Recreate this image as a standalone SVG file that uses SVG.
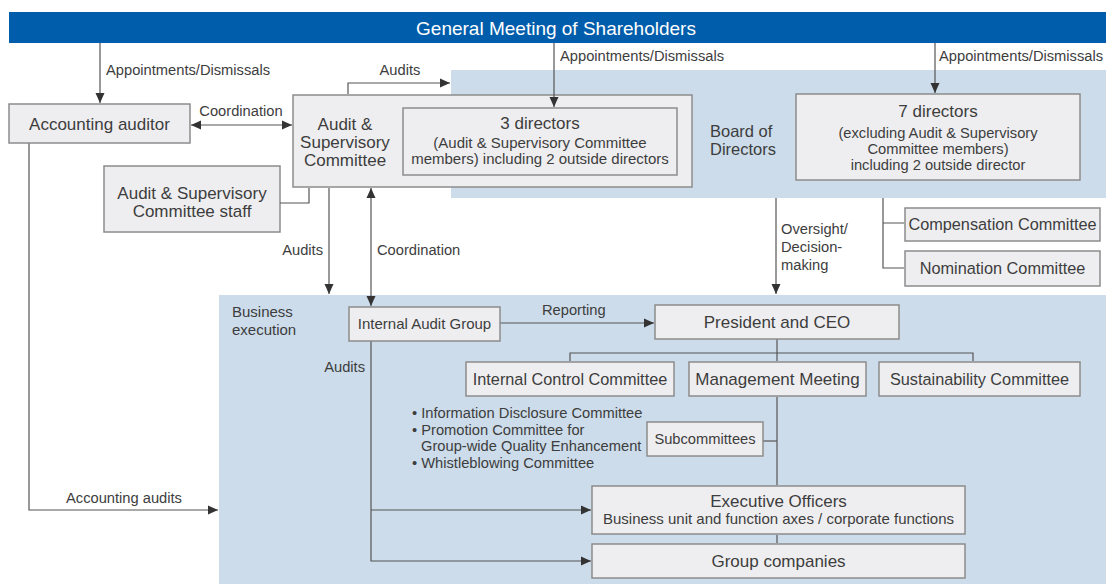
<svg xmlns="http://www.w3.org/2000/svg" width="1106" height="584" viewBox="0 0 1106 584">
<defs>
<marker id="ah" markerUnits="userSpaceOnUse" markerWidth="10" markerHeight="10" viewBox="0 0 10 10" refX="10" refY="5" orient="auto-start-reverse">
<path d="M0,0.5 L10,5 L0,9.5 Z" fill="#333"/>
</marker>
<style>
.bx{fill:#eeeef0;stroke:#8c8c8c;stroke-width:1.5}
.ln{fill:none;stroke:#555;stroke-width:1.2}
.ar{marker-end:url(#ah)}
.da{marker-start:url(#ah);marker-end:url(#ah)}
text{font-family:"Liberation Sans",Arial,sans-serif;fill:#3d3d3d}
.t17{font-size:17px;text-anchor:middle}
.t16{font-size:16.3px;text-anchor:middle}
.t15{font-size:15px;text-anchor:middle}
.t14{font-size:14.7px;text-anchor:middle}
.lb{font-size:14.7px}
</style>
</defs>
<rect width="1106" height="584" fill="#ffffff"/>
<rect id="board-panel" x="451" y="70" width="655" height="128" fill="#ccdcea"/>
<rect id="exec-panel" x="219" y="295" width="887" height="289" fill="#ccdcea"/>
<g id="gms">
<rect x="9" y="12" width="1097" height="31" fill="#005dab"/>
<text x="556" y="34.5" style="font-size:19px;text-anchor:middle;fill:#ffffff">General Meeting of Shareholders</text>
</g>
<g id="board-label">
<text x="710" y="137" style="font-size:16.5px">Board of</text>
<text x="710" y="155" style="font-size:16.5px">Directors</text>
</g>
<g id="exec-label">
<text x="232" y="317" style="font-size:15px">Business</text>
<text x="232" y="335" style="font-size:15px">execution</text>
</g>
<g id="accounting-auditor">
<rect class="bx" x="9" y="104" width="181" height="39"/>
<text class="t17" x="99.5" y="130">Accounting auditor</text>
</g>
<g id="asc">
<rect class="bx" x="293" y="95" width="399" height="92"/>
<text class="t17" x="345" y="130">Audit &amp;</text>
<text class="t17" x="345" y="148">Supervisory</text>
<text class="t17" x="345" y="166">Committee</text>
</g>
<g id="three-directors">
<rect class="bx" x="403" y="108" width="274" height="67"/>
<text class="t17" x="540" y="129">3 directors</text>
<text class="t15" x="540" y="148">(Audit &amp; Supervisory Committee</text>
<text class="t15" x="540" y="164">members) including 2 outside directors</text>
</g>
<g id="asc-staff">
<rect class="bx" x="104" y="166" width="176" height="66"/>
<text class="t17" x="192" y="199">Audit &amp; Supervisory</text>
<text class="t17" x="192" y="217">Committee staff</text>
</g>
<g id="seven-directors">
<rect class="bx" x="796" y="94" width="284" height="86"/>
<text class="t17" x="938" y="117">7 directors</text>
<text class="t14" x="938" y="138">(excluding Audit &amp; Supervisory</text>
<text class="t14" x="938" y="154">Committee members)</text>
<text class="t14" x="938" y="170">including 2 outside director</text>
</g>
<g id="compensation">
<rect class="bx" x="905" y="208" width="195" height="33"/>
<text class="t16" x="1002.5" y="230">Compensation Committee</text>
</g>
<g id="nomination">
<rect class="bx" x="905" y="251" width="195" height="35"/>
<text class="t16" x="1002.5" y="274">Nomination Committee</text>
</g>
<g id="internal-audit">
<rect class="bx" x="349" y="307" width="151" height="34"/>
<text class="t15" x="424.5" y="329">Internal Audit Group</text>
</g>
<g id="ceo">
<rect class="bx" x="655" y="305" width="244" height="34"/>
<text class="t17" x="777" y="328">President and CEO</text>
</g>
<g id="icc">
<rect class="bx" x="466" y="362" width="208" height="34"/>
<text class="t16" x="570" y="385">Internal Control Committee</text>
</g>
<g id="mm">
<rect class="bx" x="689" y="362" width="177" height="34"/>
<text class="t17" x="777.5" y="385">Management Meeting</text>
</g>
<g id="sustainability">
<rect class="bx" x="879" y="362" width="201" height="34"/>
<text class="t16" x="979.5" y="385">Sustainability Committee</text>
</g>
<g id="committee-list">
<text class="lb" x="412" y="418">• Information Disclosure Committee</text>
<text class="lb" x="412" y="435">• Promotion Committee for</text>
<text class="lb" x="421" y="451">Group-wide Quality Enhancement</text>
<text class="lb" x="412" y="468">• Whistleblowing Committee</text>
</g>
<g id="subcommittees">
<rect class="bx" x="647" y="422" width="116" height="34"/>
<text class="t14" x="705" y="444">Subcommittees</text>
</g>
<g id="executive-officers">
<rect class="bx" x="592" y="486" width="373" height="48"/>
<text class="t17" x="778.5" y="507">Executive Officers</text>
<text class="t15" x="778.5" y="524">Business unit and function axes / corporate functions</text>
</g>
<g id="group-companies">
<rect class="bx" x="592" y="544" width="373" height="34"/>
<text class="t17" x="778.5" y="567">Group companies</text>
</g>
<g id="connectors">
<path class="ln ar" d="M100,43 V103"/>
<path class="ln ar" d="M554,43 V107"/>
<path class="ln ar" d="M935,43 V93"/>
<path class="ln da" d="M191,125 H292"/>
<path class="ln ar" d="M348,94 V83 H450"/>
<path class="ln" d="M280,203 H309 V188"/>
<path class="ln ar" d="M329,188 V294"/>
<path class="ln da" d="M371,188 V306"/>
<path class="ln ar" d="M29,143.5 V510 H218"/>
<path class="ln ar" d="M500.5,323 H654"/>
<path class="ln ar" d="M371,341.5 V561 H591"/>
<path class="ln ar" d="M371,510 H591"/>
<path class="ln ar" d="M776,198 V294"/>
<path class="ln" d="M883,198 V268 H904 M883,223 H904"/>
<path class="ln" d="M777,339.5 V361 M777,397 V485 M777,535 V543"/>
<path class="ln" d="M570,361 V353 H973 V361"/>
<path class="ln" d="M763.5,441 H777"/>
<text class="lb" x="106" y="75">Appointments/Dismissals</text>
<text class="lb" x="560" y="61">Appointments/Dismissals</text>
<text class="lb" x="939" y="61">Appointments/Dismissals</text>
<text class="lb" x="241" y="116" text-anchor="middle">Coordination</text>
<text class="lb" x="400" y="75" text-anchor="middle">Audits</text>
<text class="lb" x="323" y="255" text-anchor="end">Audits</text>
<text class="lb" x="377" y="255">Coordination</text>
<text class="lb" x="781" y="234">Oversight/</text>
<text class="lb" x="781" y="252">Decision-</text>
<text class="lb" x="781" y="270">making</text>
<text class="lb" x="542" y="315">Reporting</text>
<text class="lb" x="365" y="372" text-anchor="end">Audits</text>
<text class="lb" x="66" y="503">Accounting audits</text>
</g>
</svg>
